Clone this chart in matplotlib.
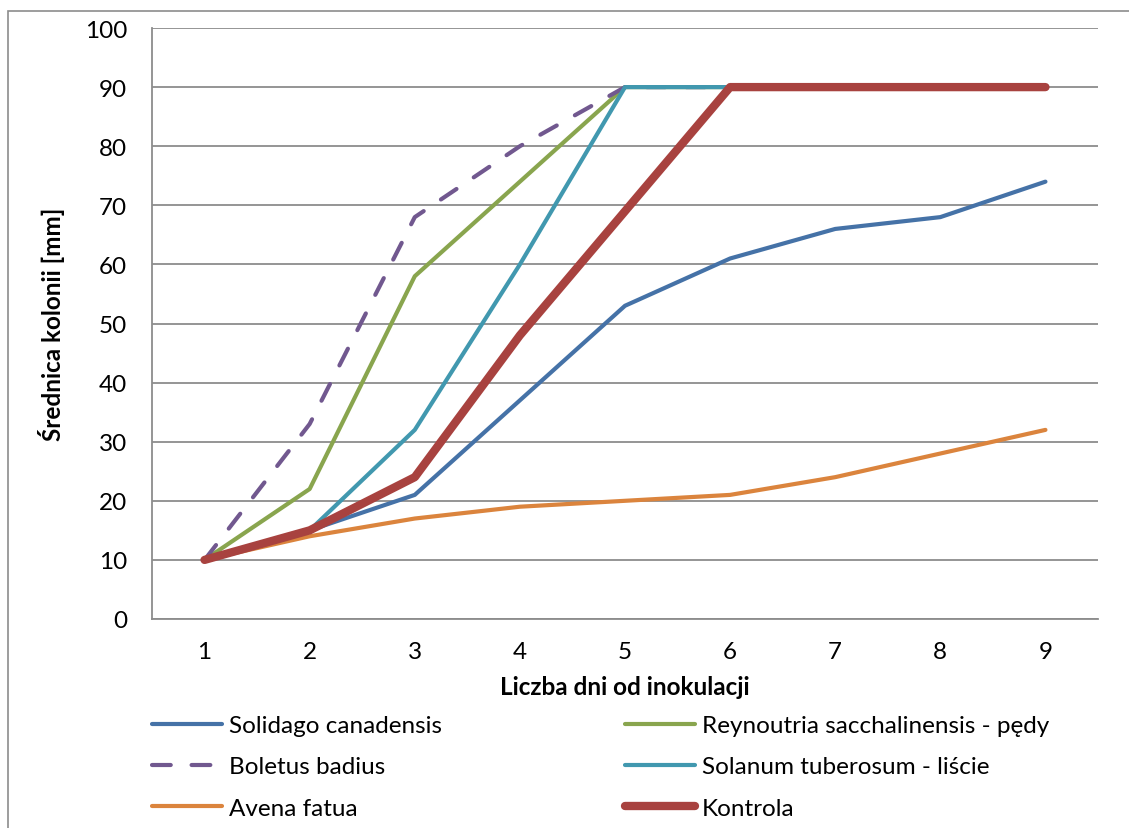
import matplotlib
matplotlib.use("Agg")
import matplotlib.pyplot as plt
from matplotlib.patches import Rectangle

days = [1, 2, 3, 4, 5, 6, 7, 8, 9]
solidago = [10, 15, 21, 37, 53, 61, 66, 68, 74]
reynoutria = [10, 22, 58, 74, 90, 90, 90, 90, 90]
boletus = [10, 33, 68, 80, 90, 90, 90, 90, 90]
solanum = [10, 15, 32, 60, 90, 90, 90, 90, 90]
avena = [10, 14, 17, 19, 20, 21, 24, 28, 32]
kontrola = [10, 15, 24, 48, 69, 90, 90, 90, 90]

labels = ["Solidago canadensis", "Reynoutria sacchalinensis - pędy",
          "Boletus badius", "Solanum tuberosum - liście",
          "Avena fatua", "Kontrola"]
yticks = list(range(0, 101, 10))

plt.rcParams['font.family'] = ['Lato', 'DejaVu Sans']

W, H = 1129, 829
fig = plt.figure(figsize=(W / 100, H / 100), dpi=100)
fig.patches.append(Rectangle((8 / W, -0.1), 1.2, 1 - 12 / H + 0.1,
                             transform=fig.transFigure, fill=False,
                             edgecolor='#8c8c8c', linewidth=1.2))

ax = fig.add_axes([152 / W, 1 - 620 / H, (1098 - 152) / W, (620 - 29) / H])
ax.set_xlim(0.5, 9.5)
ax.set_ylim(0, 100)
ax.set_yticks(yticks)
ax.set_xticks(days)
ax.grid(axis='y', color='#8c8c8c', linewidth=1.3)
ax.set_axisbelow(True)
for s in ['top', 'right']:
    ax.spines[s].set_visible(False)
for s in ['left', 'bottom']:
    ax.spines[s].set_color('#8c8c8c')
    ax.spines[s].set_linewidth(1.3)
ax.tick_params(axis='both', length=0, labelsize=17.5)
ax.tick_params(axis='y', pad=18)
ax.tick_params(axis='x', pad=16)

lw = 3.0
l1, = ax.plot(days, solidago, color='#4572A7', lw=lw, solid_capstyle='round', solid_joinstyle='round')
l2, = ax.plot(days, reynoutria, color='#89A54E', lw=lw, solid_capstyle='round', solid_joinstyle='round')
l3, = ax.plot(days, boletus, color='#71588F', lw=lw, dashes=(4.5, 5.0), dash_capstyle='round', dash_joinstyle='round')
l4, = ax.plot(days, solanum, color='#4198AF', lw=lw, solid_capstyle='round', solid_joinstyle='round')
l5, = ax.plot(days, avena, color='#DB843D', lw=lw, solid_capstyle='round', solid_joinstyle='round')
l6, = ax.plot(days, kontrola, color='#A8423F', lw=6.0, solid_capstyle='round', solid_joinstyle='round')

ax.set_xlabel("Liczba dni od inokulacji", fontsize=17.5, fontweight='bold', labelpad=9)
ax.set_ylabel("Średnica kolonii [mm]", fontsize=17.5, fontweight='bold', labelpad=14)

handles = [l1, l2, l3, l4, l5, l6]
common = dict(frameon=False, fontsize=17.5, handlelength=2.9, handletextpad=0.25,
              labelspacing=0.84, borderpad=0, borderaxespad=0, loc='upper left')
leg1 = fig.legend([handles[0], handles[2], handles[4]], [labels[0], labels[2], labels[4]],
                  bbox_to_anchor=(152 / W, 1 - 716 / H), **common)
leg2 = fig.legend([handles[1], handles[3], handles[5]], [labels[1], labels[3], labels[5]],
                  bbox_to_anchor=(625 / W, 1 - 716 / H), **common)

fig.savefig("out.png", dpi=100)
